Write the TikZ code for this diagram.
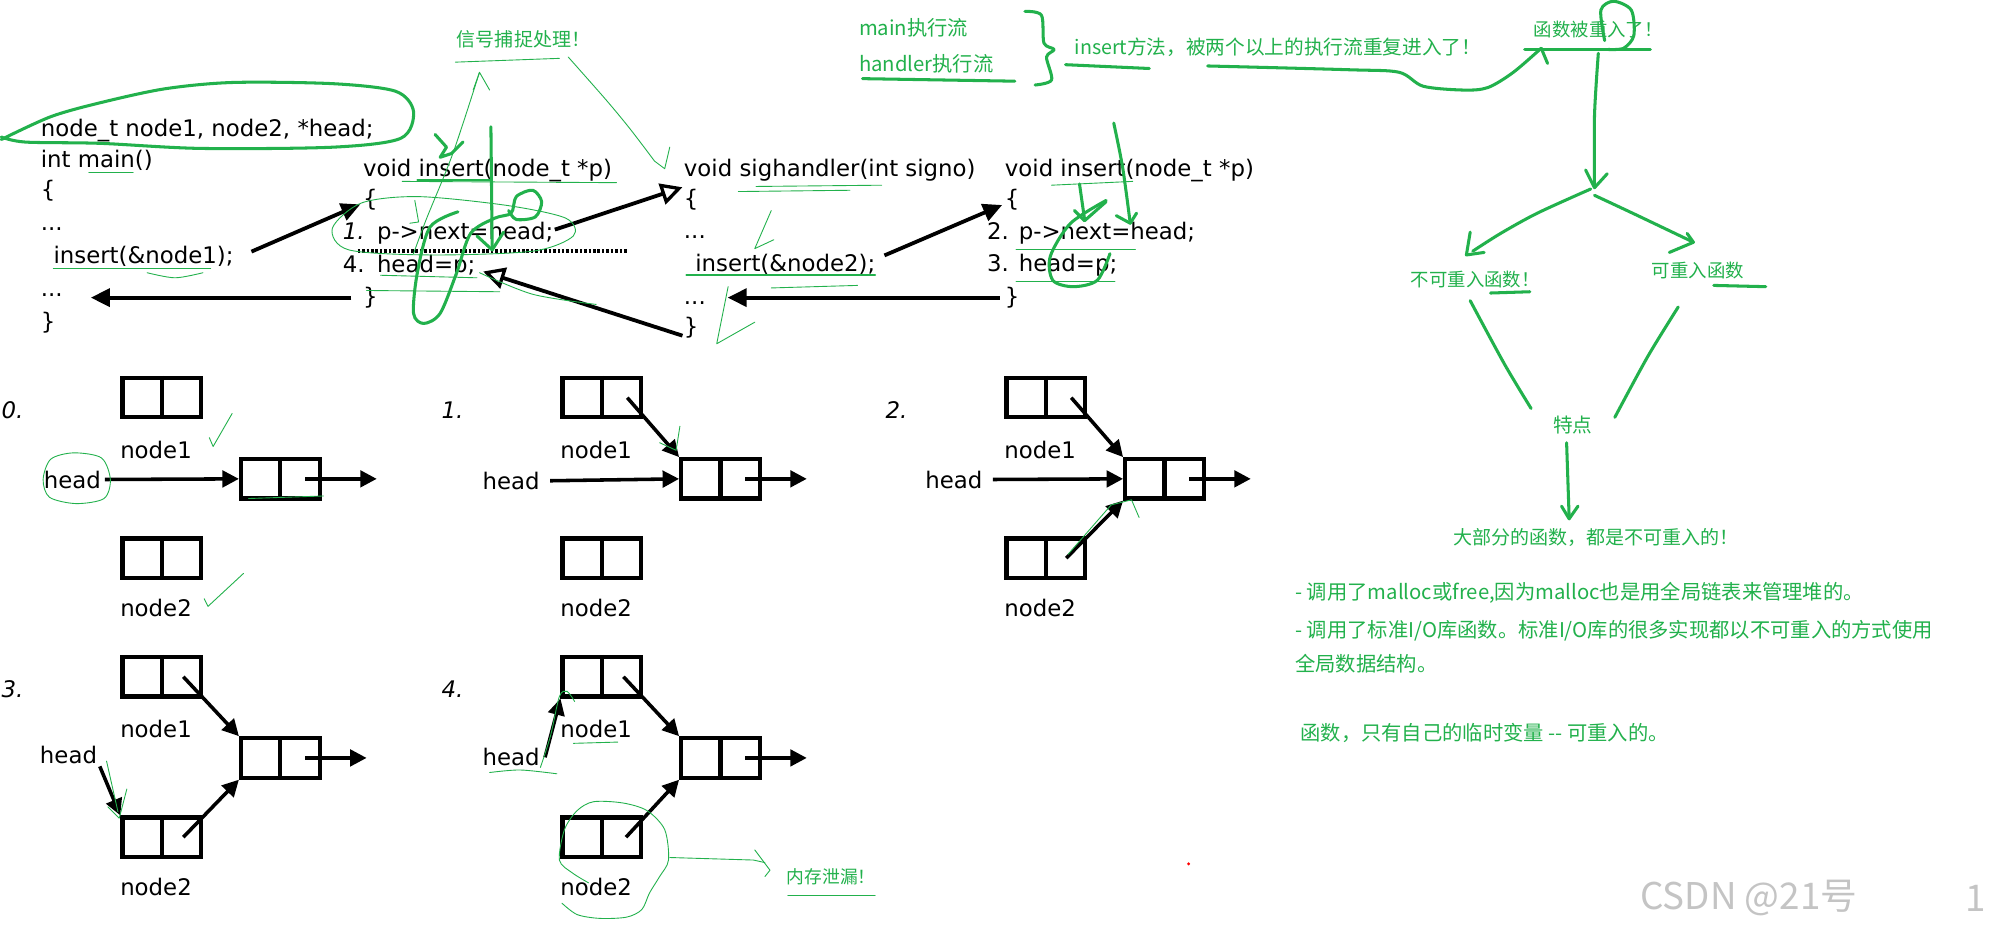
\documentclass[tikz,border=0pt]{standalone}
\usepackage{fontspec}
\setmainfont{DejaVu Sans}
\newfontfamily\cjk{Noto Sans CJK SC}
\usetikzlibrary{arrows.meta,calc}
\definecolor{grn}{RGB}{34,177,76}
\definecolor{wmark}{RGB}{196,196,196}
\newcommand\cf{\fontsize{18}{18}\selectfont}
\newcommand\gfs[1]{\cjk\fontsize{#1}{#1}\selectfont}
\tikzset{
 code/.style={font=\cf, anchor=base west, inner sep=0pt},
 codei/.style={font=\cf\itshape, anchor=base west, inner sep=0pt},
 lbl/.style={font=\cf, inner sep=0pt},
 plab/.style={font=\cf\itshape, anchor=west, inner sep=0pt},
 gtxt/.style={font=\gfs{15.5}, text=grn, anchor=west, inner sep=0pt},
 blk/.style={draw=black, line width=3pt, -{Triangle[length=15pt,width=14pt]}},
 opn/.style={draw=black, line width=3pt, -{Triangle[open,length=17pt,width=17pt,line width=2.6pt]}},
 lbox/.style={draw=black, line width=3.3pt, minimum width=62pt, minimum height=31pt, inner sep=0pt},
 larr/.style={draw=black, line width=2.8pt, -{Triangle[length=13pt,width=13pt]}},
 gk/.style={draw=grn, line width=2.4pt, line cap=round, line join=round},
 gm/.style={draw=grn, line width=1.4pt, line cap=round, line join=round},
 gt/.style={draw=grn, line width=0.7pt, line cap=round, line join=round},
}
\newcommand\llpanel[5]{%
 \begin{scope}[shift={(#2,#3)}]
  \node[plab] (#1lab) at (1,323) {#4.};
  \node[lbox] (#1n1) at (127.5,313.5) {};
  \node[lbox] (#1c) at (221,377.5) {};
  \node[lbox] (#1n2) at (127.5,440) {};
  \foreach \b in {n1,c,n2} \draw[line width=3.3pt] (#1\b.north) -- (#1\b.south);
  \node[lbl] (#1t1) at (123,355) {node1};
  \node[lbl] (#1t2) at (123,479) {node2};
  \coordinate (#1o) at (#5,377.5);
  \draw[larr] ([xshift=-13pt]#1c.east) -- (#1o);
 \end{scope}}
\begin{document}
\begin{tikzpicture}[x=1pt,y=-1pt]
\useasboundingbox[fill=white] (0,0) rectangle (1568,733);

% ---------- code block 1
\node[code] (b1a) at (32,108) {node\_t node1, node2, *head;};
\node[code] (b1b) at (32,132) {int main()};
\node[code] (b1c) at (32,156) {\{};
\node[code] (b1d) at (32,182) {...};
\node[code] (b1e) at (42,208) {insert(\&node1);};
\node[code] (b1f) at (32,234) {...};
\node[code] (b1g) at (32,260) {\}};
% ---------- code block 2
\node[code] (b2a) at (286,139) {void insert(node\_t *p)};
\node[code] (b2b) at (286,163) {\{};
\node[codei] (b2n1) at (270,189) {1.};
\node[code] (b2c) at (297,189) {p->next=head;};
\node[code] (b2n4) at (270,215) {4.};
\node[code] (b2d) at (297,215) {head=p;};
\node[code] (b2e) at (286,240) {\}};
% ---------- code block 3
\node[code] (b3a) at (539,139) {void sighandler(int signo)};
\node[code] (b3b) at (539,163) {\{};
\node[code] (b3c) at (539,188) {...};
\node[code] (b3d) at (548,214) {insert(\&node2);};
\node[code] (b3e) at (539,240) {...};
\node[code] (b3f) at (539,264) {\}};
% ---------- code block 4
\node[code] (b4a) at (792,139) {void insert(node\_t *p)};
\node[code] (b4b) at (792,163) {\{};
\node[code] (b4n2) at (778,189) {2.};
\node[code] (b4c) at (803,189) {p->next=head;};
\node[code] (b4n3) at (778,214) {3.};
\node[code] (b4d) at (803,214) {head=p;};
\node[code] (b4e) at (792,240) {\}};

% black arrows
\draw[blk] ([shift={(14,-4)}]b1e.east) -- ([shift={(-2,3.5)}]b2b.west);
\draw[blk] ([xshift=-9pt]b2e.west) -- ($(b1f.east |- b2e.west)+(22,0)$);
\draw[opn] ([shift={(1,-3)}]b2c.east) -- ([shift={(-1,-10)}]b3b.west);
\draw[opn] ([shift={(-1,6)}]b3f.west) -- ([shift={(6,4)}]b2d.east);
\draw[blk] ([shift={(7,-7)}]b3d.east) -- ([shift={(-2,4)}]b4b.west);
\draw[blk] ([xshift=-4pt]b4e.west) -- ($(b3e.east |- b4e.west)+(17,0)$);
\coordinate (dl1) at (282,198);
\coordinate (dl2) at (494,198);
\draw[line width=3.5pt, dash pattern=on 2pt off 1.5pt] (dl1) -- (dl2);

% ---------- linked-list panels
\llpanel{p0}{0}{0}{0}{297}
\llpanel{p1}{347}{0}{1}{289}
\llpanel{p2}{697}{0}{2}{289}
\llpanel{p3}{0}{220}{3}{289}
\llpanel{p4}{347}{220}{4}{289}

\node[lbl] (p0h) at (57,378) {head};
\draw[larr] ([xshift=3pt]p0h.east) -- (p0c.west);
\node[lbl] (p1h) at (403,379) {head};
\draw[larr] ([xshift=8pt]p1h.east) -- (p1c.west);
\draw[larr] ([xshift=20pt]p1n1.center) -- (p1c.north west);
\node[lbl] (p2h) at (752,378) {head};
\draw[larr] ([xshift=8pt]p2h.east) -- (p2c.west);
\draw[larr] ([xshift=20pt]p2n1.center) -- (p2c.north west);
\draw[larr] ([xshift=16pt]p2n2.center) -- (p2c.south west);
\node[lbl] (p3h) at (54,595) {head};
\draw[larr] ([shift={(2,2)}]p3h.south east) -- (p3n2.north west);
\draw[larr] ([xshift=17pt]p3n1.center) -- (p3c.north west);
\draw[larr] ([xshift=17pt]p3n2.center) -- (p3c.south west);
\node[lbl] (p4h) at (403,597) {head};
\draw[larr] ([xshift=4pt]p4h.east) -- (p4n1.south west);
\draw[larr] ([xshift=17pt]p4n1.center) -- (p4c.north west);
\draw[larr] ([xshift=19pt]p4n2.center) -- (p4c.south west);

% ---------- green texts
\node[gtxt, font=\gfs{15}] (tsig) at (360,31) {信号捕捉处理！};
\node[gtxt, font=\gfs{16}] (tmain) at (677,22) {main执行流};
\node[gtxt, font=\gfs{16}] (thand) at (677,50) {handler执行流};
\node[gtxt] (tins) at (847,37) {insert方法，被两个以上的执行流重复进入了！};
\node[gtxt, font=\gfs{14.5}] (tre) at (1209,23) {函数被重入了！};
\node[gtxt, font=\gfs{14.5}] (tnon) at (1112,220) {不可重入函数！};
\node[gtxt, font=\gfs{14.5}] (tcan) at (1302,213) {可重入函数};
\node[gtxt, font=\gfs{15.5}, anchor=center] (ttd) at (1240,335) {特点};
\node[gtxt, font=\gfs{15}, anchor=center] (tmost) at (1258,424) {大部分的函数，都是不可重入的！};
\node[gtxt, font=\gfs{16}] (tl1) at (1021,467) {- 调用了malloc或free,因为malloc也是用全局链表来管理堆的。};
\node[gtxt, font=\gfs{16}] (tl2) at (1021,497) {- 调用了标准I/O库函数。标准I/O库的很多实现都以不可重入的方式使用};
\node[gtxt, font=\gfs{16}] (tl3) at (1021,523) {全局数据结构。};
\node[gtxt, font=\gfs{16}] (tl4) at (1025,578) {函数，只有自己的临时变量 -{}- 可重入的。};
\node[gtxt, font=\gfs{14}] (tleak) at (620,691) {内存泄漏！};
\node[font=\gfs{29}, text=wmark, anchor=west, inner sep=0pt] (wm) at (1293,708) {CSDN @21号};
\node[font=\gfs{29}, text=wmark, anchor=west, inner sep=0pt] (wm1) at (1549,708) {1};
\fill[red] (937,681) circle (1.3);

% ---------- green scribbles, block 1
\draw[gk] plot[smooth] coordinates {(1,110) (40,92) (79,81) (130,70) (184,65) (263,66) (312,72) (326,88) (316,109) (263,116) (158,117) (79,113) (20,112) (1,108)};
\draw[gt] (70,136) -- (105,136);
\draw[gt] (42,212) -- (166,212);
\draw[gt] plot[smooth] coordinates {(116,215) (138,219) (160,215)};
% block 2
\draw[gt] (359,49) -- (441,46);
\draw[gt] plot[smooth] coordinates {(448,45) (478,79) (497,102) (516,127)} -- (524,133) -- (528,116);
\draw[gt] plot[smooth] coordinates {(326,200) (336,173) (357,121) (378,57)};
\draw[gt] (373,71) -- (378,57) -- (386,71);
\draw[gk] (343,106) -- (352,116) -- (347,124) -- (356,121) -- (365,112);
\draw[gk] (387,100) -- (388,197);
\draw[gk] (376,186) -- (388,197) -- (397,183);
\draw[gk] plot[smooth] coordinates {(361,167) (339,179) (329,215) (326,247) (334,255) (347,247) (360,215) (371,184) (390,172) (403,168) (407,155) (420,150) (427,159) (422,171) (407,173) (401,166)};
\draw[gt] plot[smooth cycle] coordinates {(262,180) (285,160) (330,155) (400,162) (446,172) (452,186) (420,198) (340,201) (275,197)};
\draw[gt] (317,143) -- (486,144);
\draw[gm] (329,142) -- (386,142);
\draw[gt] (327,158) -- (330,175) -- (323,176);
\draw[gt] (300,217) -- (376,219);
\draw[gt] (289,229) -- (394,230);
\draw[gt] plot[smooth] coordinates {(378,215) (420,232) (470,240)};
% block 3
\draw[gt] (582,151) -- (670,150);
\draw[gt] (596,147) -- (695,146);
\draw[gt] (608,166) -- (595,196) -- (610,189);
\draw[gm] (541,217) -- (690,217);
\draw[gt] (608,227) -- (676,225);
\draw[gt] (574,226) -- (565,271) -- (595,254);
% block 4
\draw[gk] plot[smooth] coordinates {(878,97) (885,132) (891,176)};
\draw[gk] (880,170) -- (891,176) -- (896,168);
\draw[gk] (851,145) -- (855,173);
\draw[gk] (847,166) -- (855,174) -- (872,159);
\draw[gk] plot[smooth] coordinates {(872,158) (844,176) (828,202) (830,221) (846,226) (865,221) (875,200)};
\draw[gt] (829,146) -- (893,143);
\draw[gt] (801,197) -- (895,197);
\draw[gt] (801,222) -- (879,222);
% top right flow
\draw[gk] (680,62) -- (800,64);
\draw[gk] plot[smooth] coordinates {(808,9) (821,12) (823,34) (831,39) (825,45) (829,63) (816,67)};
\draw[gk] (840,51) -- (906,54);
\draw[gk] plot[smooth] coordinates {(952,52) (1064,55) (1103,57) (1122,68) (1154,71) (1173,69) (1193,57) (1215,38)};
\draw[gk] (1215,38) -- (1220,50);
\draw[gk] (1202,39) -- (1301,39);
\draw[gk] plot[smooth] coordinates {(1265,32) (1262,8) (1272,1) (1286,8) (1288,28) (1280,38) (1268,39)};
\draw[gk] plot[smooth] coordinates {(1260,42) (1257,91) (1257,147)};
\draw[gk] (1250,134) -- (1257,148) -- (1267,137);
\draw[gk] plot[smooth] coordinates {(1254,149) (1212,168) (1183,184) (1161,198)};
\draw[gk] (1159,183) -- (1156,201) -- (1170,199);
\draw[gk] plot[smooth] coordinates {(1257,154) (1289,169) (1333,190)};
\draw[gk] (1330,184) -- (1335,191) -- (1316,199);
\draw[gk] (1175,231) -- (1206,230);
\draw[gk] (1351,225) -- (1392,226);
\draw[gk] plot[smooth] coordinates {(1159,237) (1186,287) (1207,322)};
\draw[gk] plot[smooth] coordinates {(1323,242) (1299,281) (1273,329)};
\draw[gk] (1235,349) -- (1237,408);
\draw[gk] (1231,399) -- (1237,409) -- (1244,399);
% panels
\draw[gt] plot[smooth cycle] coordinates {(34,378) (40,362) (58,357) (80,361) (87,378) (82,393) (60,397) (39,392)};
\draw[gt] (165,345) -- (168,352) -- (183,326);
\draw[gt] (161,472) -- (164,478) -- (192,452);
\draw[gt] (196,393) -- (255,391);
\draw[gt] (520,349) -- (533,355) -- (536,336);
\draw[gt] (842,437) -- (876,398) -- (892,394) -- (898,408);
\draw[gt] (84,600) -- (93,640);
\draw[gt] (85,636) -- (94,645) -- (100,622);
\draw[gt] plot[smooth] coordinates {(386,609) (410,607) (439,610)};
\draw[gt] plot[smooth] coordinates {(426,605) (434,580) (441,549) (447,545) (453,553)};
\draw[gt] (452,586) -- (487,585);
\draw[gt] plot[smooth] coordinates {(464,696) (451,688) (441,678) (445,654) (455,639) (468,632) (491,633) (510,639) (524,654) (527,678) (520,691) (512,704) (506,717) (494,723) (473,724) (455,721) (443,712)};
\draw[gt] (528,676) -- (594,678) -- (603,680);
\draw[gt] (595,670) -- (607,686) -- (603,691);
\draw[gt] (621,706) -- (690,706);
\end{tikzpicture}
\end{document}
